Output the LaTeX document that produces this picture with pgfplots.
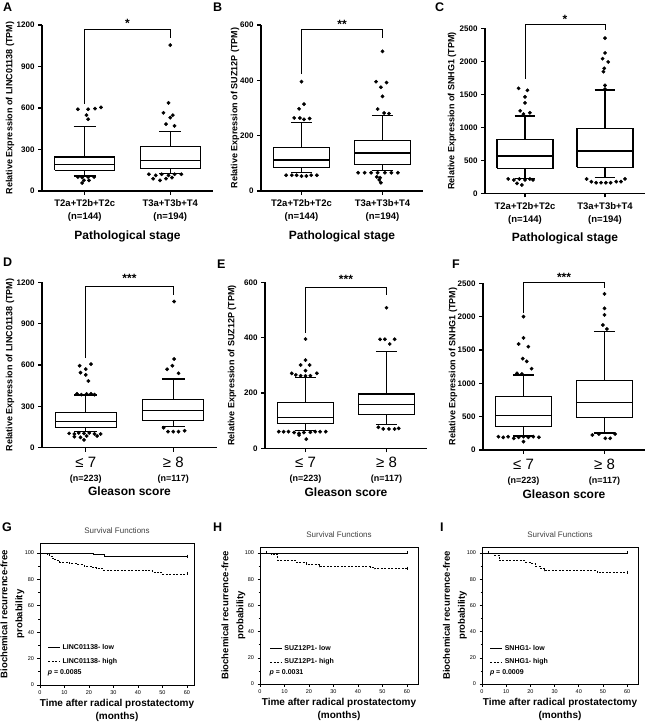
\documentclass[border=0pt]{standalone}
\usepackage{fontspec}
\setmainfont{Liberation Sans}
\usepackage{pgfplots}
\pgfplotsset{compat=1.18}

\pgfplotsset{
  boxax/.style={scale only axis, anchor=south west, axis lines*=left,
    axis line style={line width=1.2pt}, tick style={line width=1.2pt, black},
    tick align=outside, major tick length=4pt,
    xmin=0.5, xmax=2.5, xtick={1,2}, ymin=0, clip=false,
    /pgf/number format/assume math mode=true, /pgf/number format/1000 sep={},
    yticklabel style={font=\bfseries\fontsize{8}{9}\selectfont},
    xticklabel style={align=center, font=\bfseries\fontsize{9.5}{13}\selectfont, yshift=-1.5pt},
    ylabel style={font=\bfseries\fontsize{9}{10}\selectfont},
    xlabel style={font=\bfseries\fontsize{12}{14}\selectfont, at={(axis description cs:0.5,0)}, anchor=center, yshift=-45pt},
  },
  ylab/.style={ylabel style={at={(axis description cs:#1,0.5)}, anchor=center}},
  stage/.style={xticklabels={{T2a+T2b+T2c\\(n=144)},{T3a+T3b+T4\\(n=194)}}, xlabel={Pathological stage}},
  gleason/.style={xticklabels={{{\fontsize{15}{15}\selectfont\mdseries ≤ 7}\\(n=223)},{{\fontsize{15}{15}\selectfont\mdseries ≥ 8}\\(n=117)}},
     xticklabel style={font=\bfseries\fontsize{9}{14}\selectfont, yshift=0pt}, xlabel={Gleason score}},
  bxl/.style={black, line width=1.2pt, solid, mark=none},
  outl/.style={only marks, mark=*, mark size=1.7pt, black},
  brk/.style={black, line width=1pt, mark=none},
  kmax/.style={scale only axis, anchor=south west, xmin=0, ymin=0,
    xtick={0,10,...,60}, ytick={0,20,...,100}, minor y tick num=1,
    tick align=outside, xtick pos=bottom, ytick pos=left,
    major tick length=2.5pt, minor tick length=1.5pt,
    axis line style={line width=0.8pt}, tick style={line width=0.6pt, black},
    /pgf/number format/assume math mode=true,
    ticklabel style={font=\fontsize{5.5}{6}\selectfont},
    title={Survival Functions}, title style={font=\fontsize{8}{9}\selectfont, text=black!75},
    ylabel={Biochemical recurrence-free\\probability},
    ylabel style={align=center, font=\bfseries\fontsize{9.5}{15}\selectfont},
    xlabel={Time after radical prostatectomy\\(months)},
    xlabel style={align=center, font=\bfseries\fontsize{10}{12.5}\selectfont,
      at={(axis description cs:0.5,0)}, anchor=north, yshift=-11pt},
    legend cell align=left,
    legend style={anchor=north west, draw=none, fill=none, inner sep=0pt,
      font=\bfseries\fontsize{7}{8}\selectfont, row sep=3pt},
    legend image code/.code={\draw[#1, line width=0.8pt] (0pt,0pt) -- (12pt,0pt);},
  },
  lowc/.style={black, line width=0.8pt, solid, const plot, mark=none},
  highc/.style={black, line width=0.8pt, dash pattern=on 2pt off 1.5pt, const plot, mark=none},
}
\tikzset{sigstar/.style={font=\bfseries\fontsize{12}{12}\selectfont}}

% box: position, lower whisker, lower quartile, median, upper quartile, upper whisker
\newcommand\bxp[6]{%
  \pgfmathsetmacro\bxL{#1-0.35}\pgfmathsetmacro\bxR{#1+0.35}%
  \pgfmathsetmacro\cL{#1-0.13}\pgfmathsetmacro\cR{#1+0.13}%
  \edef\doboxes{%
  \noexpand\addplot[bxl] coordinates {(\bxL,#3)(\bxR,#3)(\bxR,#5)(\bxL,#5)(\bxL,#3)};
  \noexpand\addplot[bxl] coordinates {(\bxL,#4)(\bxR,#4)};
  \noexpand\addplot[bxl] coordinates {(#1,#5)(#1,#6)};
  \noexpand\addplot[bxl] coordinates {(\cL,#6)(\cR,#6)};
  \noexpand\addplot[bxl] coordinates {(#1,#3)(#1,#2)};
  \noexpand\addplot[bxl] coordinates {(\cL,#2)(\cR,#2)};
  }\doboxes
}

\begin{document}
\begin{tikzpicture}
\useasboundingbox (0,0) rectangle (650pt,722pt);

% ---------- A ----------
\begin{axis}[boxax, stage, ylab=-0.187, at={(42pt,531pt)}, width=171pt, height=166pt,
  ymax=1200, ytick={0,300,...,1200}, ylabel={Relative Expression of LINC01138 (TPM)}]
\bxp{1}{109}{150}{193}{246}{468}
\bxp{2}{128}{163}{223}{320}{430}
\addplot[outl] coordinates {(0.92,591)(1.04,591)(1.12,596)(1.19,604)(1.02,548)(1.04,519)
 (0.92,101)(0.97,97)(1.04,101)(1.11,101)(0.99,77)(1.05,77)(0.97,58)};
\addplot[outl] coordinates {(2.0,1055)(1.98,637)(1.92,565)(2.03,548)(2.0,530)(1.95,483)(2.05,471)
 (1.75,121)(1.83,113)(1.9,121)(1.98,113)(2.05,121)(2.13,121)(1.8,89)(1.88,77)(1.95,89)(2.02,97)};
\addplot[brk] coordinates {(1,632)(1,1164)(2,1164)(2,1103)};
\node[sigstar] at (axis cs:1.5,1212) {*};
\end{axis}

% ---------- B ----------
\begin{axis}[boxax, stage, ylab=-0.16, at={(261pt,531pt)}, width=162pt, height=166pt,
  ymax=600, ytick={0,200,400,600}, ylabel={Relative Expression of SUZ12P (TPM)}]
\bxp{1}{68}{86}{112}{158}{249}
\bxp{2}{75}{95}{137}{183}{273}
\addplot[outl] coordinates {(1.0,395)(1.03,314)(0.97,297)(0.91,264)(0.98,264)(1.03,259)(1.1,262)
 (0.81,57)(0.88,57)(0.94,57)(1.0,54)(1.06,54)(1.12,57)(1.19,57)};
\addplot[outl] coordinates {(2.0,505)(1.92,395)(1.98,375)(2.05,392)(2.0,342)(1.94,296)(2.02,282)(2.08,280)
 (1.7,66)(1.78,66)(1.86,66)(1.94,66)(2.03,66)(2.11,66)(2.19,66)(1.93,51)(1.97,48)(1.96,40)(1.98,30)};
\addplot[brk] coordinates {(1,422)(1,582)(2,582)(2,552)};
\node[sigstar] at (axis cs:1.5,601) {**};
\end{axis}

% ---------- C ----------
\begin{axis}[boxax, stage, ylab=-0.206, at={(485pt,528.7pt)}, width=160pt, height=165pt,
  ymax=2500, ytick={0,500,...,2500}, ylabel={Relative Expression of SNHG1 (TPM)}]
\bxp{1}{227}{379}{566}{818}{1172}
\bxp{2}{237}{394}{641}{985}{1565}
\addplot[outl] coordinates {(0.92,1590)(1.03,1560)(1.0,1460)(1.0,1370)(0.94,1250)(1.06,1220)(0.98,1200)
 (0.79,217)(0.86,202)(0.93,217)(1.0,202)(1.06,217)(1.1,202)(0.96,126)(0.9,150)};
\addplot[outl] coordinates {(2.0,2350)(2.0,2126)(1.97,2040)(2.04,1990)(1.99,1893)(1.98,1843)(2.0,1636)(2.0,1580)
 (1.77,217)(1.83,176)(1.89,160)(1.95,160)(2.01,160)(2.07,160)(2.14,176)(2.2,176)(2.25,217)};
\addplot[brk] coordinates {(1,1732)(1,2565)(2,2565)(2,2474)};
\node[sigstar] at (axis cs:1.5,2630) {*};
\end{axis}

% ---------- D ----------
\begin{axis}[boxax, gleason, ylab=-0.183, at={(42pt,274.3pt)}, width=175pt, height=165.4pt,
  ymax=1200, ytick={0,300,...,1200}, ylabel={Relative Expression of LINC01138 (TPM)}, xlabel style={yshift=1pt}]
\bxp{1}{116}{148}{189}{254}{382}
\bxp{2}{155}{197}{268}{348}{498}
\addplot[outl] coordinates {(0.93,595)(1.0,570)(1.06,606)(0.94,545)(1.0,528)(1.03,484)(0.9,390)(0.95,385)(1.01,390)(1.06,390)(1.1,385)
 (0.81,104)(0.87,100)(0.92,108)(0.98,104)(1.04,108)(1.1,100)(1.17,100)(0.87,80)(0.94,75)(1.01,85)(1.13,85)(0.98,56)};
\addplot[outl] coordinates {(2.01,1060)(2.01,644)(1.99,595)(1.93,569)(2.06,540)
 (1.89,145)(1.94,116)(2.0,116)(2.06,116)(2.13,123)};
\addplot[brk] coordinates {(1,649)(1,1169)(2,1169)(2,1108)};
\node[sigstar] at (axis cs:1.5,1228) {***};
\end{axis}

% ---------- E ----------
\begin{axis}[boxax, gleason, ylab=-0.204, at={(265pt,273.7pt)}, width=162pt, height=166pt,
  ymax=600, ytick={0,200,400,600}, ylabel={Relative Expression of SUZ12P (TPM)}, xlabel style={yshift=1pt}]
\bxp{1}{63}{90}{111}{165}{255}
\bxp{2}{87}{122}{159}{196}{350}
\addplot[outl] coordinates {(1.0,395)(1.0,319)(0.94,301)(1.05,301)(1.0,281)(0.83,271)(0.88,265)(0.94,262)(1.0,262)(1.06,262)(1.14,271)
 (0.67,60)(0.73,60)(0.79,60)(0.86,57)(0.92,54)(0.98,57)(1.06,58)(1.12,60)(1.18,60)(1.25,60)(0.92,48)(1.01,33)};
\addplot[outl] coordinates {(2.0,508)(1.92,394)(1.98,394)(2.1,394)(2.04,377)
 (1.9,76)(1.96,70)(2.03,70)(2.1,70)(2.15,72)};
\addplot[brk] coordinates {(1,418)(1,582)(2,582)(2,554)};
\node[sigstar] at (axis cs:1.5,612) {***};
\end{axis}

% ---------- F ----------
\begin{axis}[boxax, gleason, ylab=-0.185, at={(483pt,272pt)}, width=162pt, height=166.7pt,
  ymax=2500, ytick={0,500,...,2500}, ylabel={Relative Expression of SNHG1 (TPM)}, xlabel style={yshift=1pt}]
\bxp{1}{210}{350}{515}{800}{1125}
\bxp{2}{255}{490}{710}{1045}{1780}
\addplot[outl] coordinates {(1.0,2000)(1.0,1680)(0.94,1590)(1.06,1550)(0.99,1370)(1.04,1330)(1.1,1220)(0.92,1150)(0.98,1140)
 (0.69,200)(0.75,190)(0.81,200)(0.88,175)(0.94,190)(1.0,200)(1.06,190)(1.12,200)(1.19,190)(1.0,125)};
\addplot[outl] coordinates {(2.0,2340)(2.0,2125)(2.0,2025)(1.98,1875)(2.03,1815)
 (1.85,225)(1.93,240)(2.01,175)(2.07,175)(2.13,240)};
\addplot[brk] coordinates {(1,2060)(1,2515)(2,2515)(2,2425)};
\node[sigstar] at (axis cs:1.5,2590) {***};
\end{axis}

% ---------- G ----------
\begin{axis}[kmax, ylab=-0.179, at={(40pt,37pt)}, width=154pt, height=142pt, xmax=62.9, ymax=107.5,
  legend style={at={(rel axis cs:0.05,0.30)}}]
\addplot[lowc] coordinates {(0,100)(22,98.5)(26.5,97)(60,97)};
\addlegendentry{LINC01138- low}
\addplot[highc] coordinates {(0,100)(3,98.5)(4,97.5)(5,96)(6,95)(7,94)(8,93)(12,92)(15,91)(18,90)(21,89)(23,88)(26,87)(43,86.5)(46,85.5)(48,85)(50,84)(60,84)};
\addlegendentry{LINC01138- high}
\addplot[forget plot, only marks, mark=|, mark size=1.5pt, black] coordinates {(60,97.5)(60,84.5)};
\node[anchor=west, font=\bfseries\fontsize{7}{8}\selectfont, inner sep=0pt] at (rel axis cs:0.05,0.085) {\textit{p} = 0.0085};
\end{axis}

% ---------- H ----------
\begin{axis}[kmax, ylab=-0.168, at={(260pt,38pt)}, width=158pt, height=137pt, xmax=64.5, ymax=104.6,
  legend style={at={(rel axis cs:0.06,0.30)}}]
\addplot[lowc] coordinates {(0,100)(60,100)};
\addlegendentry{SUZ12P1- low}
\addplot[highc] coordinates {(0,100)(4.5,99)(7.3,94)(14.8,92.5)(18.9,91)(24.4,89.5)(45,89)(46.5,88)(60,88)};
\addlegendentry{SUZ12P1- high}
\addplot[forget plot, only marks, mark=|, mark size=1.5pt, black] coordinates {(60,100.5)(60,88.5)(2.7,100.5)};
\node[anchor=west, font=\bfseries\fontsize{7}{8}\selectfont, inner sep=0pt] at (rel axis cs:0.06,0.085) {\textit{p} = 0.0031};
\end{axis}

% ---------- I ----------
\begin{axis}[kmax, ylab=-0.173, at={(482pt,38pt)}, width=156pt, height=137pt, xmax=64.5, ymax=104.6,
  legend style={at={(rel axis cs:0.05,0.30)}}]
\addplot[lowc] coordinates {(0,100)(60,100)};
\addlegendentry{SNHG1- low}
\addplot[highc] coordinates {(0,100)(4.8,98.5)(7.2,94)(18,93)(20,92)(22,90)(24,88)(26,86.5)(47.6,85)(60,85)};
\addlegendentry{SNHG1- high}
\addplot[forget plot, only marks, mark=|, mark size=1.5pt, black] coordinates {(60,100.5)(60,85.5)(2.7,100.5)};
\node[anchor=west, font=\bfseries\fontsize{7}{8}\selectfont, inner sep=0pt] at (rel axis cs:0.05,0.085) {\textit{p} = 0.0009};
\end{axis}

% panel letters
\begin{scope}[every node/.style={anchor=north west, inner sep=0pt, font=\bfseries\fontsize{12.5}{14}\selectfont}]
\node at (3pt,719pt) {A};
\node at (213pt,719pt) {B};
\node at (435pt,719pt) {C};
\node at (3pt,464pt) {D};
\node at (217pt,462pt) {E};
\node at (452pt,462pt) {F};
\node at (2pt,199pt) {G};
\node at (213pt,199pt) {H};
\node at (440pt,199pt) {I};
\end{scope}
\end{tikzpicture}
\end{document}
